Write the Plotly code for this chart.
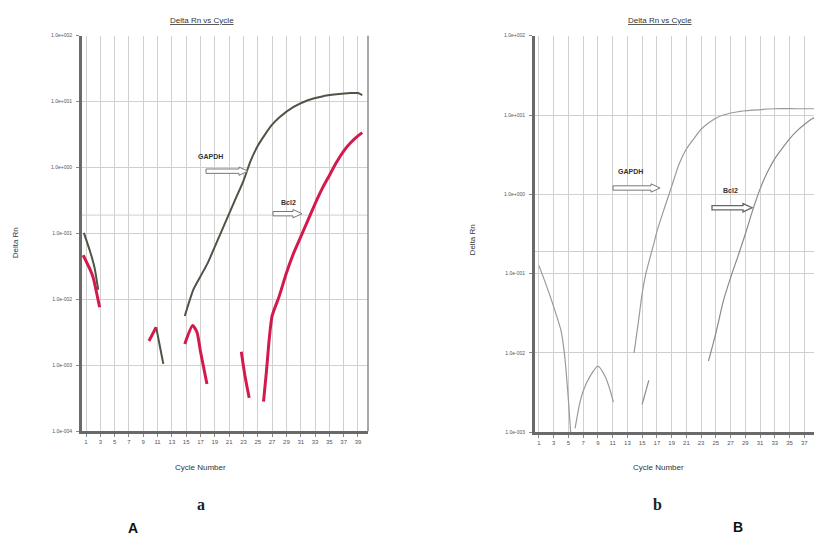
import plotly.graph_objects as go

W, H = 822, 547
OFF = 8  # browser default body margin

# ---------------- data (Delta Rn values) ----------------
# Panel A (a): GAPDH (dark) and Bcl2 (red); None separates broken segments
gapdh_a_cycles = [0.7, 1.6, 2.2, 2.7, None,
                  10.8, 11.3, 11.8, None,
                  14.8, 16, 17, 18, 19, 20, 21, 22, 23, 24, 25, 26, 27, 28, 30, 32, 34, 36, 38, 39, 39.6]
gapdh_a_values = [0.102, 0.052, 0.030, 0.014, None,
                  0.0038, 0.0020, 0.00105, None,
                  0.0056, 0.0141, 0.0224, 0.0355, 0.063, 0.112, 0.20, 0.355, 0.63, 1.26, 2.14, 3.16, 4.47,
                  5.75, 8.3, 10.5, 12.0, 12.9, 13.5, 13.5, 12.6]

bcl2_a_cycles = [0.6, 1.6, 2.0, 2.9, None,
                 9.8, 10.8, None,
                 14.8, 15.9, 16.5, 17.0, 17.9, None,
                 22.7, 23.2, 23.8, None,
                 25.8, 26.2, 26.6, 27.0, 28, 29, 30, 31, 32, 33, 34, 35, 36, 37, 38, 39, 39.6]
bcl2_a_values = [0.047, 0.028, 0.0214, 0.0076, None,
                 0.00234, 0.0038, None,
                 0.0021, 0.0040, 0.0032, 0.0016, 0.00052, None,
                 0.0016, 0.0007, 0.00032, None,
                 0.00028, 0.00079, 0.0025, 0.0056, 0.0112, 0.0251, 0.050, 0.089, 0.158, 0.282, 0.479,
                 0.759, 1.20, 1.78, 2.40, 3.02, 3.39]

# Panel B (b): all curves thin grey
gapdh_b_cycles = [1.0, 2, 3, 4, 4.5, 5, 5.3, None,
                  5.9, 6.5, 7, 8, 9, 10, 10.6, 11.1, None,
                  13.9, 14.5, 15, 15.5, 16, 16.5, 17, 18, 19, 20, 21, 22, 23, 24, 25, 26, 28, 30, 33, 36, 39.5]
gapdh_b_values = [0.126, 0.071, 0.038, 0.019, 0.0089, 0.0025, 0.0010, None,
                  0.00112, 0.00224, 0.0033, 0.0052, 0.0068, 0.0050, 0.0035, 0.0024, None,
                  0.010, 0.0251, 0.0562, 0.10, 0.151, 0.224, 0.339, 0.661, 1.26, 2.40, 3.72, 5.01, 6.61,
                  7.94, 9.12, 10.0, 11.0, 11.5, 12.0, 12.0, 12.0]

bcl2_b_cycles = [15.0, 15.9, None,
                 24, 25, 26, 27, 28, 29, 30, 31, 32, 33, 34, 35, 36, 37, 38, 39, 39.5]
bcl2_b_values = [0.00224, 0.0045, None,
                 0.0079, 0.0178, 0.0447, 0.089, 0.166, 0.316, 0.631, 1.17, 1.91, 2.82, 3.80, 5.01,
                 6.31, 7.59, 8.91, 9.77, 10.0]

threshold = 0.19

x_ticks = list(range(1, 40, 2))
y_ticks_a = [1e-4, 1e-3, 1e-2, 1e-1, 1e0, 1e1, 1e2]
y_labels_a = ["1.0e-004", "1.0e-003", "1.0e-002", "1.0e-001", "1.0e+000", "1.0e+001", "1.0e+002"]
y_ticks_b = [1e-3, 1e-2, 1e-1, 1e0, 1e1, 1e2]
y_labels_b = ["1.0e-003", "1.0e-002", "1.0e-001", "1.0e+000", "1.0e+001", "1.0e+002"]

x_range_a = [0.44, 40.4]
x_range_b = [0.46, 39.4]

# ---------------- figure ----------------
FW, FH = W - OFF, H - 2 * OFF


def px(x):
    return (x - OFF) / FW


def py(y):
    return 1 - (y - OFF) / FH


FONT = "Liberation Sans, Arial, sans-serif"
DARK = "#4d5646"
RED = "#d41a4c"
GREY = "#9a9a9a"
GRID = "#d0d0d0"

fig = go.Figure()

# threshold lines
fig.add_trace(go.Scatter(x=x_range_a, y=[threshold, threshold], mode="lines",
                         line=dict(color="#cfcfcf", width=1), xaxis="x", yaxis="y", hoverinfo="skip"))
fig.add_trace(go.Scatter(x=x_range_b, y=[threshold, threshold], mode="lines",
                         line=dict(color="#cfcfcf", width=1), xaxis="x2", yaxis="y2", hoverinfo="skip"))

fig.add_trace(go.Scatter(x=gapdh_a_cycles, y=gapdh_a_values, mode="lines", name="GAPDH",
                         line=dict(color=DARK, width=2, shape="spline", smoothing=0.6),
                         connectgaps=False, xaxis="x", yaxis="y"))
fig.add_trace(go.Scatter(x=bcl2_a_cycles, y=bcl2_a_values, mode="lines", name="Bcl2",
                         line=dict(color=RED, width=3, shape="spline", smoothing=0.6),
                         connectgaps=False, xaxis="x", yaxis="y"))
fig.add_trace(go.Scatter(x=gapdh_b_cycles, y=gapdh_b_values, mode="lines", name="GAPDH",
                         line=dict(color=GREY, width=1.2, shape="spline", smoothing=0.6),
                         connectgaps=False, xaxis="x2", yaxis="y2"))
fig.add_trace(go.Scatter(x=bcl2_b_cycles, y=bcl2_b_values, mode="lines", name="Bcl2",
                         line=dict(color="#8a8a8a", width=1.2, shape="spline", smoothing=0.6),
                         connectgaps=False, xaxis="x2", yaxis="y2"))

axis_common = dict(showgrid=True, gridcolor=GRID, gridwidth=1, zeroline=False,
                   showline=True, linecolor="#6a6a6a", linewidth=3,
                   ticks="outside", ticklen=3, tickcolor="#888",
                   tickfont=dict(family=FONT, size=6, color="#555"))

fig.update_layout(
    width=FW, height=FH, margin=dict(l=0, r=0, t=0, b=0),
    paper_bgcolor="white", plot_bgcolor="white", showlegend=False,
    xaxis=dict(axis_common, domain=[px(82), px(368)], range=x_range_a,
               tickvals=x_ticks, anchor="y"),
    yaxis=dict(axis_common, domain=[py(433), py(33)], type="log", range=[-4, 2],
               tickvals=y_ticks_a, ticktext=y_labels_a, anchor="x", ticklabelstandoff=3,
               tickfont=dict(family=FONT, size=5, color="#555")),
    xaxis2=dict(axis_common, domain=[px(535), 1.0], range=x_range_b,
                tickvals=x_ticks, anchor="y2"),
    yaxis2=dict(axis_common, domain=[py(434), py(33)], type="log", range=[-3, 2],
                tickvals=y_ticks_b, ticktext=y_labels_b, anchor="x2", ticklabelstandoff=3,
                tickfont=dict(family=FONT, size=5, color="#555")),
)

# right border of panel A
fig.add_shape(type="line", xref="x domain", yref="y domain", x0=1, x1=1, y0=0, y1=1,
              line=dict(color="#8a8a8a", width=1.5))


def txt(x, y, s, size, color="#333", bold=False, angle=0, family=FONT):
    fig.add_annotation(x=px(x), y=py(y), xref="paper", yref="paper", text=s, showarrow=False,
                       textangle=angle, xanchor="center", yanchor="middle",
                       font=dict(family=family, size=size, color=color,
                                 weight="bold" if bold else "normal"))


def block_arrow(x0, x1, y, color="#777", width=1):
    shaft, head, hl = 2.2, 4.2, 9
    pts = [(x0, y - shaft), (x1 - hl, y - shaft), (x1 - hl, y - head), (x1, y),
           (x1 - hl, y + head), (x1 - hl, y + shaft), (x0, y + shaft)]
    path = "M " + " L ".join(f"{px(a):.5f},{py(b):.5f}" for a, b in pts) + " Z"
    fig.add_shape(type="path", xref="paper", yref="paper", path=path,
                  line=dict(color=color, width=width), fillcolor="white")


# titles
txt(202, 18, "<u>Delta Rn vs Cycle</u>", 8)
txt(660, 18, "<u>Delta Rn vs Cycle</u>", 8)
# axis titles
txt(15, 243, "Delta Rn", 8, angle=-90)
txt(472, 240, "Delta Rn", 8, angle=-90)
txt(200, 470, "Cycle Number", 8)
txt(658, 470, "Cycle Number", 8)
# panel letters
txt(201, 507, "a", 16, color="#222", bold=True, family="Liberation Serif, Times New Roman, serif")
txt(657, 507, "b", 16, color="#222", bold=True, family="Liberation Serif, Times New Roman, serif")
txt(133, 531, "A", 14, color="#111", bold=True)
txt(738, 530, "B", 14, color="#111", bold=True)

# last tick label of panel B, cut by the right edge as in the reference
fig.add_annotation(x=x_ticks[-1], xref="x2", y=py(441), yref="paper", text=str(x_ticks[-1]),
                   showarrow=False, xanchor="center", yanchor="middle",
                   font=dict(family=FONT, size=6, color="#555"))

# gene labels and hollow arrows
txt(210, 155, "GAPDH", 7, color="#333", bold=True)
block_arrow(206, 248, 170)
txt(288, 202, "Bcl2", 7, color="#333", bold=True)
block_arrow(273, 302, 213)
txt(630, 170, "GAPDH", 7, color="#333", bold=True)
block_arrow(613, 660, 187)
txt(730, 190, "Bcl2", 7, color="#333", bold=True)
block_arrow(712, 752, 207, color="#666", width=1.3)

fig.write_html("out.html")
